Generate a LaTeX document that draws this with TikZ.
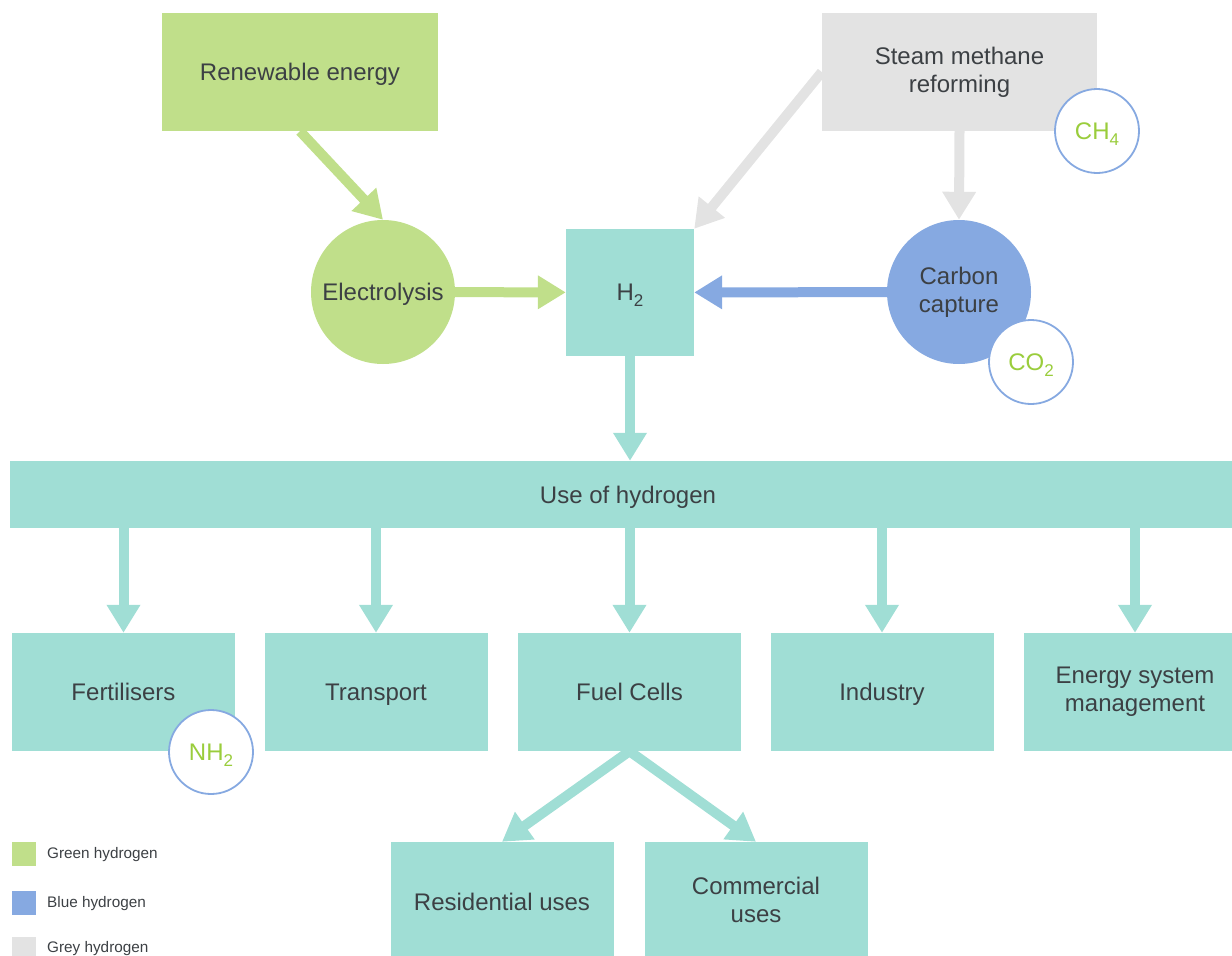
\documentclass[tikz,border=0pt]{standalone}
\usepackage{fontspec}
\setmainfont{Liberation Sans}
\usetikzlibrary{arrows.meta}
\definecolor{cgreen}{HTML}{C0DF8A}
\definecolor{cblue}{HTML}{86A9E1}
\definecolor{cgrey}{HTML}{E3E3E3}
\definecolor{cteal}{HTML}{A0DED5}
\definecolor{ctext}{HTML}{3C4044}
\definecolor{cgtext}{HTML}{9ACD3C}
\newcommand{\mystrut}{\rule[-5pt]{0pt}{27pt}}
\newcommand{\firststrut}{\mystrut}
\newcommand{\mysub}[1]{\raisebox{-6pt}{\fontsize{17}{17}\selectfont #1}}
\tikzset{
  box/.style={rectangle, inner sep=0pt, text=ctext, align=center, font=\fontsize{24}{28}\selectfont, execute at begin node=\firststrut, execute at end node=\mystrut},
  twoline/.code={\def\firststrut{\rule{0pt}{15pt}}},
  bigcirc/.style={circle, inner sep=0pt, minimum size=144pt, text=ctext, align=center, font=\fontsize{24}{28}\selectfont, execute at begin node=\firststrut, execute at end node=\mystrut},
  smallcirc/.style={circle, inner sep=0pt, minimum size=84pt, fill=white, draw=cblue, line width=1.8pt, text=cgtext, font=\fontsize{24}{28}\selectfont, execute at begin node=\mystrut},
  arr/.style={line width=10pt, -{Triangle[length=28pt,width=32pt]}},
  legsq/.style={rectangle, inner sep=0pt, minimum size=24pt},
  legtxt/.style={anchor=west, inner sep=0pt, text=ctext, font=\fontsize{15.3}{18}\selectfont, execute at begin node=\strut},
  usebox/.style={box, fill=cteal, minimum width=223pt, minimum height=118pt}
}
\begin{document}
\begin{tikzpicture}[x=1pt,y=-1pt]
\useasboundingbox (0,0) rectangle (1232,956);
% top boxes
\node[box, fill=cgreen, minimum width=276pt, minimum height=118pt] (ren) at (300,72) {Renewable energy};
\node[box, twoline, fill=cgrey, minimum width=275pt, minimum height=118pt] (smr) at (959.5,72) {Steam methane\\reforming};
\node[bigcirc, fill=cgreen] (ele) at (383,292) {Electrolysis};
\node[box, fill=cteal, minimum width=128pt, minimum height=127pt] (h2) at (630,292.5) {H\mysub{2}};
\node[bigcirc, twoline, fill=cblue] (cc) at (959,292) {Carbon\\capture};
\node[box, fill=cteal, minimum width=1236pt, minimum height=67pt] (use) at (628,494.5) {Use of hydrogen};
% use boxes
\node[usebox] (fert) at (123.5,692) {Fertilisers};
\node[usebox] (trans) at (376,692) {Transport};
\node[usebox] (fc) at (629.5,692) {Fuel Cells};
\node[usebox] (ind) at (882,692) {Industry};
\node[usebox, twoline] (esm) at (1135,692) {Energy system\\management};
\node[usebox, minimum height=120pt] (res) at (502,902) {Residential uses};
\node[usebox, twoline, minimum height=120pt] (com) at (756,902) {Commercial\\uses};
% connectors
\draw[arr, cgreen] (ren.south) -- (ele.north);
\draw[arr, cgrey] (smr.west) -- (h2.north east);
\draw[arr, cgrey] (smr.south) -- (cc.north);
\draw[arr, cgreen] (ele) -- (h2);
\draw[arr, cblue] (cc) -- (h2);
\draw[arr, cteal] (h2.south) -- (h2.south |- use.north);
\draw[arr, cteal] (use.south -| fert) -- (fert);
\draw[arr, cteal] (use.south -| trans) -- (trans);
\draw[arr, cteal] (use.south -| fc) -- (fc);
\draw[arr, cteal] (use.south -| ind) -- (ind);
\draw[arr, cteal] (use.south -| esm) -- (esm);
\draw[arr, cteal] (fc.south) -- (res.north);
\draw[arr, cteal] (fc.south) -- (com.north);
% small circles
\node[smallcirc] (ch4) at (1097,131) {CH\mysub{4}};
\node[smallcirc] (co2) at (1031,362) {CO\mysub{2}};
\node[smallcirc] (nh2) at (211,752) {NH\mysub{2}};
% legend
\node[legsq, fill=cgreen] (lg1) at (24,854) {};
\node[legtxt] (lt1) at (47,855) {Green hydrogen};
\node[legsq, fill=cblue] (lg2) at (24,903) {};
\node[legtxt] (lt2) at (47,904) {Blue hydrogen};
\node[legsq, fill=cgrey] (lg3) at (24,949) {};
\node[legtxt] (lt3) at (47,949) {Grey hydrogen};
\end{tikzpicture}
\end{document}
